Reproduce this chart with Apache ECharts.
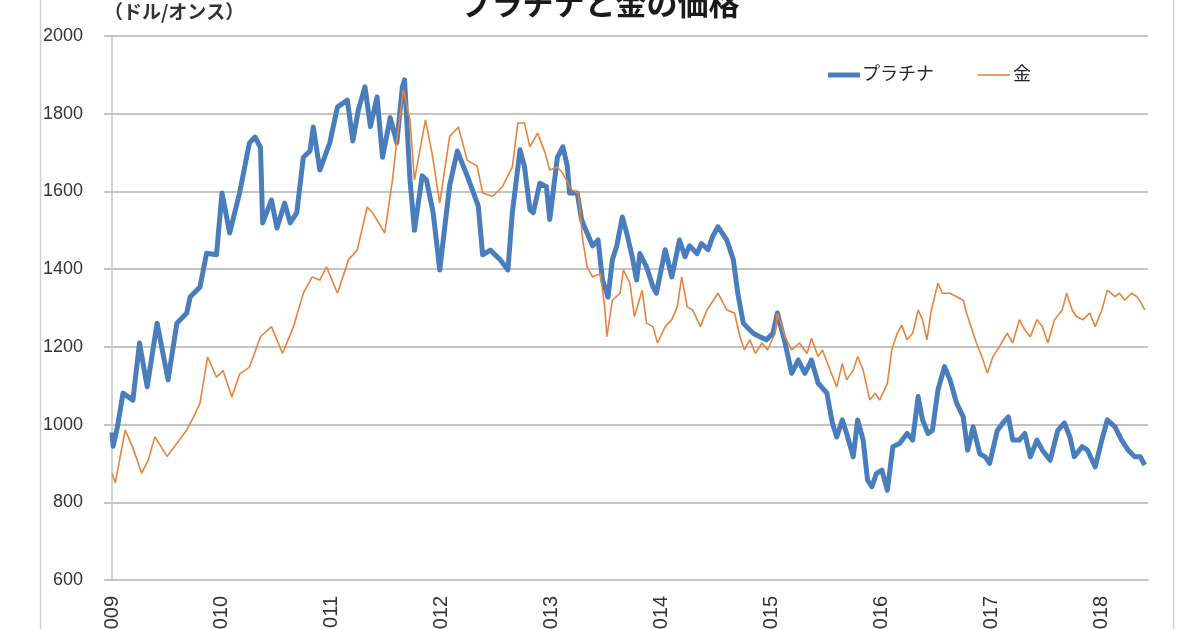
<!DOCTYPE html>
<html>
<head>
<meta charset="utf-8">
<script src="https://cdn.jsdelivr.net/npm/echarts@6/dist/echarts.min.js"></script>
<style>
html,body{margin:0;padding:0;background:#fff;}
#chart{width:1200px;height:629px;}
</style>
</head>
<body>
<div id="chart"></div>
<script>
const titleText = 'プラチナと金の価格';
const unitText = '（ドル/オンス）';
const seriesNames = ['プラチナ', '金'];
const seriesColors = ['#4a7dbb', '#e6843c'];
const yTicks = [600, 800, 1000, 1200, 1400, 1600, 1800, 2000];
const yearTicks = [2009, 2010, 2011, 2012, 2013, 2014, 2015, 2016, 2017, 2018];

const platYears = [2009.00,2009.01,2009.05,2009.10,2009.19,2009.25,2009.32,2009.41,2009.51,2009.59,2009.68,2009.71,2009.80,2009.86,2009.95,
2010.00,2010.07,2010.16,2010.25,2010.30,2010.35,2010.37,2010.45,2010.50,2010.57,2010.62,2010.68,2010.74,2010.80,2010.83,2010.89,2010.98,
2011.05,2011.14,2011.19,2011.24,2011.30,2011.35,2011.41,2011.46,2011.53,2011.59,2011.64,2011.66,2011.71,2011.75,2011.82,2011.86,2011.92,2011.98,
2012.07,2012.14,2012.23,2012.33,2012.37,2012.44,2012.53,2012.60,2012.64,2012.68,2012.71,2012.75,2012.80,2012.83,2012.89,2012.95,2012.98,
2013.05,2013.10,2013.14,2013.16,2013.23,2013.27,2013.32,2013.37,2013.42,2013.46,2013.51,2013.55,2013.59,2013.64,2013.68,2013.73,2013.77,2013.80,2013.86,2013.92,2013.95,
2014.03,2014.09,2014.16,2014.21,2014.25,2014.32,2014.36,2014.42,2014.46,2014.51,2014.59,2014.65,2014.69,2014.74,2014.77,2014.83,2014.89,2014.95,
2015.01,2015.05,2015.12,2015.18,2015.24,2015.30,2015.36,2015.42,2015.50,2015.55,2015.59,2015.64,2015.68,2015.74,2015.78,2015.83,2015.87,2015.91,2015.95,
2016.00,2016.05,2016.10,2016.16,2016.23,2016.28,2016.33,2016.37,2016.42,2016.46,2016.51,2016.57,2016.62,2016.68,2016.74,2016.78,2016.83,2016.89,2016.94,2016.98,
2017.05,2017.10,2017.15,2017.19,2017.25,2017.30,2017.35,2017.41,2017.46,2017.53,2017.60,2017.66,2017.71,2017.75,2017.82,2017.87,2017.94,
2018.00,2018.05,2018.12,2018.18,2018.24,2018.30,2018.35,2018.39];
const platPrices = [980,944,995,1081,1063,1210,1097,1261,1115,1261,1287,1328,1354,1441,1437,
1596,1493,1596,1725,1740,1713,1519,1578,1506,1570,1519,1545,1688,1704,1766,1655,1725,
1817,1835,1730,1810,1869,1767,1843,1688,1790,1725,1869,1887,1629,1500,1640,1629,1545,1398,
1615,1704,1640,1563,1437,1449,1424,1398,1545,1637,1707,1665,1553,1545,1621,1612,1528,
1688,1715,1665,1596,1596,1527,1493,1460,1475,1372,1328,1424,1460,1534,1493,1432,1372,1440,1406,1354,1338,
1450,1380,1475,1432,1460,1440,1466,1450,1483,1509,1475,1424,1338,1261,1252,1235,1226,1218,
1235,1287,1210,1132,1166,1132,1166,1107,1081,1004,968,1012,977,917,1012,960,857,840,874,
883,831,943,951,977,960,1072,1012,977,985,1089,1149,1115,1055,1020,934,994,925,917,900,
985,1004,1020,960,960,977,917,960,934,908,985,1004,968,917,943,934,891,
960,1012,994,960,934,917,917,896];

const goldYears = [2009.00,2009.03,2009.12,2009.19,2009.27,2009.33,2009.39,2009.50,2009.59,2009.68,2009.74,2009.80,2009.87,2009.95,
2010.01,2010.09,2010.16,2010.25,2010.35,2010.45,2010.55,2010.65,2010.74,2010.82,2010.89,2010.95,
2011.05,2011.15,2011.23,2011.32,2011.37,2011.48,2011.55,2011.59,2011.65,2011.71,2011.75,2011.85,2011.91,2011.98,
2012.07,2012.15,2012.23,2012.32,2012.37,2012.46,2012.55,2012.64,2012.69,2012.75,2012.80,2012.87,2012.94,2012.98,
2013.05,2013.10,2013.18,2013.24,2013.28,2013.32,2013.37,2013.44,2013.48,2013.50,2013.55,2013.62,2013.65,2013.71,2013.75,2013.82,2013.86,2013.92,2013.96,
2014.03,2014.09,2014.14,2014.18,2014.23,2014.28,2014.35,2014.41,2014.51,2014.59,2014.66,2014.71,2014.75,2014.80,2014.85,2014.91,2014.96,
2015.03,2015.05,2015.12,2015.18,2015.25,2015.32,2015.36,2015.42,2015.46,2015.53,2015.59,2015.64,2015.68,2015.74,2015.78,2015.83,2015.89,2015.94,2015.98,
2016.05,2016.09,2016.14,2016.18,2016.23,2016.28,2016.33,2016.37,2016.41,2016.45,2016.51,2016.55,2016.62,2016.68,2016.74,2016.77,2016.82,2016.86,2016.92,2016.96,
2017.01,2017.07,2017.14,2017.19,2017.25,2017.30,2017.35,2017.41,2017.46,2017.51,2017.57,2017.64,2017.68,2017.73,2017.77,2017.83,2017.89,2017.94,
2018.00,2018.05,2018.12,2018.16,2018.21,2018.27,2018.32,2018.36,2018.39];
const goldPrices = [875,850,986,940,875,909,969,918,952,986,1019,1055,1174,1122,
1139,1071,1130,1148,1226,1252,1183,1252,1338,1380,1372,1406,
1338,1424,1449,1560,1545,1493,1629,1732,1861,1784,1629,1784,1698,1570,
1741,1766,1680,1665,1596,1587,1612,1663,1776,1776,1715,1750,1698,1655,
1663,1646,1604,1596,1475,1406,1380,1389,1303,1226,1320,1338,1398,1363,1277,1346,1261,1252,1210,
1252,1270,1303,1380,1303,1295,1252,1295,1338,1295,1287,1226,1192,1218,1183,1210,1192,
1235,1287,1226,1192,1210,1183,1222,1175,1192,1140,1097,1157,1115,1140,1175,1140,1063,1081,1063,
1106,1192,1235,1256,1218,1235,1295,1270,1218,1295,1364,1338,1338,1329,1320,1287,1244,1210,1166,1132,
1175,1201,1235,1210,1270,1244,1226,1270,1252,1210,1270,1295,1338,1295,1278,1270,1287,1252,
1295,1346,1329,1338,1320,1338,1329,1312,1295];

const platData = platYears.map((t, i) => [t, platPrices[i]]);
const goldData = goldYears.map((t, i) => [t, goldPrices[i]]);

const chart = echarts.init(document.getElementById('chart'), null, {renderer: 'canvas'});
const font = '"Liberation Sans", "Noto Sans CJK JP", sans-serif';
const jpFont = '"Noto Sans CJK JP", sans-serif';
chart.setOption({
  animation: false,
  backgroundColor: '#ffffff',
  title: {
    text: titleText,
    left: 'center',
    top: -17,
    textStyle: {fontFamily: jpFont, fontSize: 31, fontWeight: 'bold', color: '#1a1a1a'}
  },
  graphic: [
    {type: 'rect', silent: true, shape: {x: 40.5, y: -10, width: 1133, height: 700},
      style: {fill: 'none', stroke: '#cfcfcf', lineWidth: 1.5}},
    {type: 'text', left: 104, top: 2, silent: true,
      style: {text: unitText, font: 'bold 19px ' + jpFont, fill: '#333333'}},
    {type: 'line', silent: true, shape: {x1: 828, y1: 75, x2: 860, y2: 75},
      style: {stroke: seriesColors[0], lineWidth: 5}},
    {type: 'text', left: 862, top: 64, silent: true,
      style: {text: seriesNames[0], font: '18px ' + jpFont, fill: '#262626'}},
    {type: 'line', silent: true, shape: {x1: 978, y1: 75, x2: 1010, y2: 75},
      style: {stroke: seriesColors[1], lineWidth: 1.6}},
    {type: 'text', left: 1013, top: 64, silent: true,
      style: {text: seriesNames[1], font: '18px ' + jpFont, fill: '#262626'}}
  ],
  grid: {left: 112, right: 52, top: 36, bottom: 49, containLabel: false, outerBoundsMode: 'none'},
  xAxis: {
    type: 'value',
    min: 2009,
    max: 2018.42,
    interval: 1,
    axisLine: {show: true, lineStyle: {color: '#c4c4c4', width: 2}},
    axisTick: {show: false},
    splitLine: {show: false},
    axisLabel: {
      rotate: 90,
      margin: 16,
      fontFamily: font,
      fontSize: 20,
      color: '#333333',
      hideOverlap: false,
      formatter: v => (yearTicks.indexOf(Math.round(v * 1000) / 1000) >= 0 ? String(v) : '')
    }
  },
  yAxis: {
    type: 'value',
    min: yTicks[0],
    max: yTicks[yTicks.length - 1],
    interval: 200,
    axisLine: {show: true, lineStyle: {color: '#c4c4c4', width: 1.5}},
    axisTick: {show: true, length: 8, lineStyle: {color: '#c4c4c4', width: 2}},
    splitLine: {show: true, lineStyle: {color: '#c4c4c4', width: 2}},
    axisLabel: {margin: 29, fontFamily: font, fontSize: 18, color: '#333333', formatter: v => String(v)}
  },
  series: [
    {name: seriesNames[0], type: 'line', data: platData, symbol: 'none', smooth: false,
      lineStyle: {color: seriesColors[0], width: 5, join: 'round'}, itemStyle: {color: seriesColors[0]}, z: 2},
    {name: seriesNames[1], type: 'line', data: goldData, symbol: 'none', smooth: false,
      lineStyle: {color: seriesColors[1], width: 1.6}, itemStyle: {color: seriesColors[1]}, z: 3}
  ]
});
</script>
</body>
</html>
